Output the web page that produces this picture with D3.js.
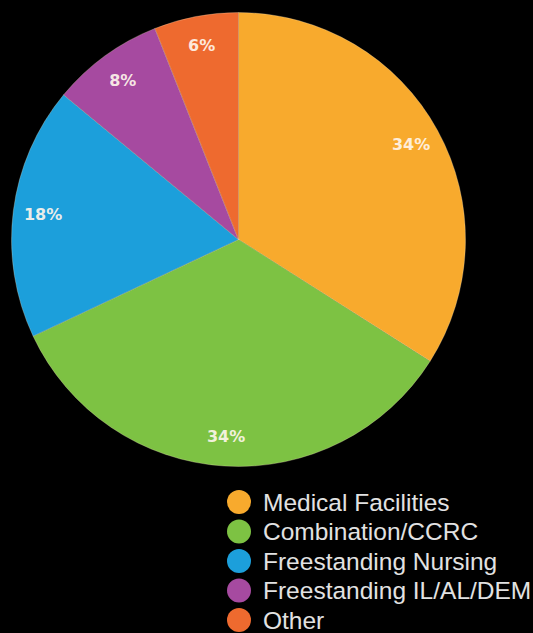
<!DOCTYPE html>
<html>
<head>
<meta charset="utf-8">
<script src="https://cdn.jsdelivr.net/npm/d3@7"></script>
<style>
  html, body { margin: 0; padding: 0; background: #000; }
  svg { display: block; }
</style>
</head>
<body>
<svg id="chart" width="533" height="633"></svg>
<script>
// Facility types and their share of the total (percent)
const categories = ["Medical Facilities", "Combination/CCRC", "Freestanding Nursing", "Freestanding IL/AL/DEM", "Other"];
const shares = [34, 34, 18, 8, 6];
const colors = ["#F8AA2D", "#7DC243", "#1C9FDB", "#A64AA0", "#EE6A2F"];

const svg = d3.select("#chart");
const W = 533, H = 633;
svg.append("rect").attr("width", W).attr("height", H).attr("fill", "#000");

const cx = 238.5, cy = 239.5, radius = 227;

const data = categories.map((c, i) => ({ name: c, value: shares[i], color: colors[i] }));

const pie = d3.pie().value(d => d.value).sort(null);
const arc = d3.arc().innerRadius(0).outerRadius(radius);
const labelArc = d3.arc().innerRadius(197).outerRadius(197);

const g = svg.append("g").attr("transform", `translate(${cx},${cy})`);
const arcs = pie(data);

g.selectAll("path.slice")
  .data(arcs)
  .join("path")
  .attr("class", "slice")
  .attr("d", arc)
  .attr("fill", d => d.data.color)
  .attr("stroke", "rgba(255,235,200,0.35)")
  .attr("stroke-width", 0.8);

g.selectAll("text.pct")
  .data(arcs)
  .join("text")
  .attr("class", "pct")
  .attr("transform", d => `translate(${labelArc.centroid(d)})`)
  .attr("text-anchor", "middle")
  .attr("dominant-baseline", "central")
  .attr("font-family", "'DejaVu Sans', sans-serif")
  .attr("font-weight", "bold")
  .attr("font-size", 16)
  .attr("fill", "#FFF6EC")
  .attr("fill-opacity", 0.92)
  .text(d => d.data.value + "%");

// Legend
const legend = svg.append("g").attr("transform", "translate(239,502)");
const rowH = 29.5;
const rows = legend.selectAll("g.row")
  .data(data)
  .join("g")
  .attr("class", "row")
  .attr("transform", (d, i) => `translate(0,${i * rowH})`);

rows.append("circle")
  .attr("r", 12)
  .attr("fill", d => d.color);

rows.append("text")
  .attr("x", 24)
  .attr("y", 0)
  .attr("dominant-baseline", "central")
  .attr("font-family", "'Liberation Sans', Arial, sans-serif")
  .attr("font-size", 24.5)
  .attr("fill", "#E2E2E2")
  .text(d => d.name);
</script>
</body>
</html>
